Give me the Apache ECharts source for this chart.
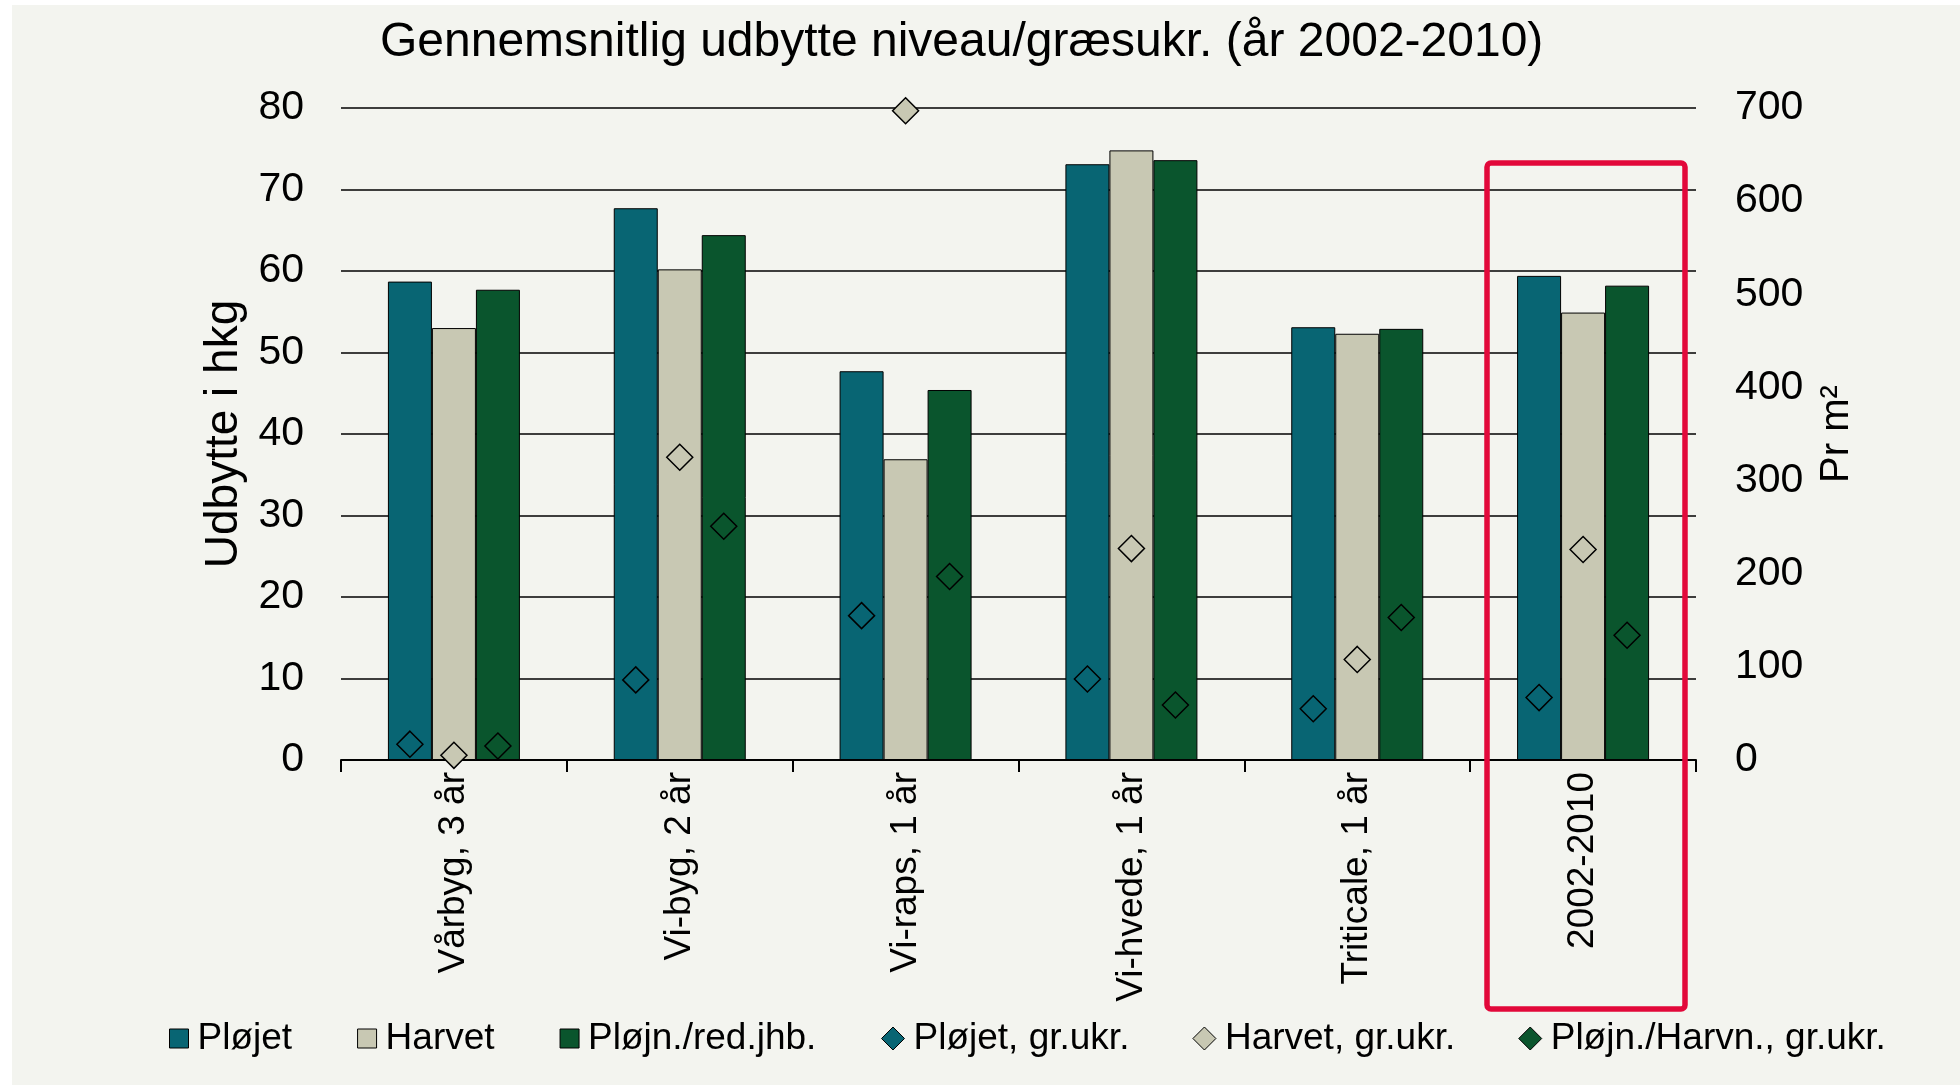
<!DOCTYPE html>
<html>
<head>
<meta charset="utf-8">
<script src="https://cdn.jsdelivr.net/npm/echarts@6/dist/echarts.min.js"></script>
<style>
  html, body { margin: 0; padding: 0; background: #ffffff; }
  #main { position: absolute; left: 12px; top: 5px; width: 1948px; height: 1080px; }
</style>
</head>
<body>
<div id="main"></div>
<script>
var categories = ['Vårbyg, 3 år', 'Vi-byg, 2 år', 'Vi-raps, 1 år', 'Vi-hvede, 1 år', 'Triticale, 1 år', '2002-2010'];

// udbytte (hkg), venstre akse
var ploejet = [58.7, 67.7, 47.7, 73.1, 53.1, 59.4];
var harvet = [53.0, 60.2, 36.9, 74.8, 52.3, 54.9];
var ploejnRed = [57.7, 64.4, 45.4, 73.6, 52.9, 58.2];

// græsukrudt pr m2, højre akse
var ploejetUkr = [17, 86, 155, 87, 55, 67];
var harvetUkr = [5, 325, 697, 227, 108, 226];
var ploejnUkr = [15, 251, 197, 59, 153, 134];

var colors = ['#086573', '#C8C8B3', '#0A552D'];
var font = 'Liberation Sans, Arial, sans-serif';

function barSeries(name, data, color) {
    return {
        name: name,
        type: 'bar',
        data: data,
        barWidth: 44,
        barGap: '0%',
        itemStyle: { color: color, borderColor: '#000', borderWidth: 1 }
    };
}

function dotSeries(name, data, color, offset) {
    return {
        name: name,
        type: 'scatter',
        yAxisIndex: 1,
        data: data,
        symbol: 'diamond',
        symbolSize: 26,
        symbolOffset: [offset, 0],
        clip: false,
        z: 5,
        itemStyle: { color: color, borderColor: '#000', borderWidth: 1.5, opacity: 1 }
    };
}

var option = {
    backgroundColor: '#F3F4EF',
    animation: false,
    textStyle: { fontFamily: font, color: '#000' },
    title: {
        text: 'Gennemsnitlig udbytte niveau/græsukr. (år 2002-2010)',
        left: 363,
        top: 9,
        textStyle: { fontFamily: font, fontSize: 48, fontWeight: 'normal', color: '#000' }
    },
    legend: [{
        data: ['Pløjet', 'Harvet', 'Pløjn./red.jhb.'],
        left: 152,
        top: 1010,
        icon: 'rect',
        itemWidth: 19,
        itemHeight: 19,
        itemGap: 65,
        itemStyle: { borderColor: '#000', borderWidth: 1 },
        textStyle: { fontFamily: font, fontSize: 37, color: '#000', padding: [0, 0, 0, 4] }
    }, {
        data: ['Pløjet, gr.ukr.', 'Harvet, gr.ukr.', 'Pløjn./Harvn., gr.ukr.'],
        left: 864,
        top: 1010,
        icon: 'diamond',
        itemWidth: 23,
        itemHeight: 23,
        itemGap: 63,
        itemStyle: { borderColor: '#000', borderWidth: 1 },
        textStyle: { fontFamily: font, fontSize: 37, color: '#000', padding: [0, 0, 0, 4] }
    }],
    grid: { left: 329, right: 264, top: 103, bottom: 325 },
    xAxis: {
        type: 'category',
        data: categories,
        axisLine: { lineStyle: { color: '#000', width: 2 } },
        axisTick: { show: true, length: 12, lineStyle: { color: '#000', width: 2 } },
        axisLabel: { rotate: 90, margin: 12, fontSize: 37, color: '#000', fontFamily: font, interval: 0 }
    },
    yAxis: [{
        type: 'value',
        min: 0,
        max: 80,
        interval: 10,
        name: 'Udbytte i hkg',
        nameLocation: 'middle',
        nameRotate: 90,
        nameGap: 94,
        nameTextStyle: { fontSize: 46, color: '#000', fontFamily: font },
        axisLine: { show: false },
        axisTick: { show: false },
        axisLabel: { fontSize: 41, color: '#000', margin: 37, fontFamily: font },
        splitLine: { lineStyle: { color: '#000', width: 1.5 } }
    }, {
        type: 'value',
        min: 0,
        max: 700,
        interval: 100,
        position: 'right',
        name: 'Pr m²',
        nameLocation: 'middle',
        nameRotate: 90,
        nameGap: 121,
        nameTextStyle: { fontSize: 40, color: '#000', fontFamily: font },
        axisLine: { show: false },
        axisTick: { show: false },
        axisLabel: { fontSize: 41, color: '#000', margin: 39, fontFamily: font },
        splitLine: { show: false }
    }],
    series: [
        barSeries('Pløjet', ploejet, colors[0]),
        barSeries('Harvet', harvet, colors[1]),
        barSeries('Pløjn./red.jhb.', ploejnRed, colors[2]),
        dotSeries('Pløjet, gr.ukr.', ploejetUkr, colors[0], -44),
        dotSeries('Harvet, gr.ukr.', harvetUkr, colors[1], 0),
        dotSeries('Pløjn./Harvn., gr.ukr.', ploejnUkr, colors[2], 44)
    ],
    graphic: [{
        // rød ramme om gennemsnittet
        type: 'rect',
        shape: { x: 1475, y: 158, width: 198, height: 846, r: 4 },
        style: { fill: 'none', stroke: '#E2083A', lineWidth: 5.5 },
        z: 10
    }]
};

var myChart = echarts.init(document.getElementById('main'));
myChart.setOption(option);
</script>
</body>
</html>
